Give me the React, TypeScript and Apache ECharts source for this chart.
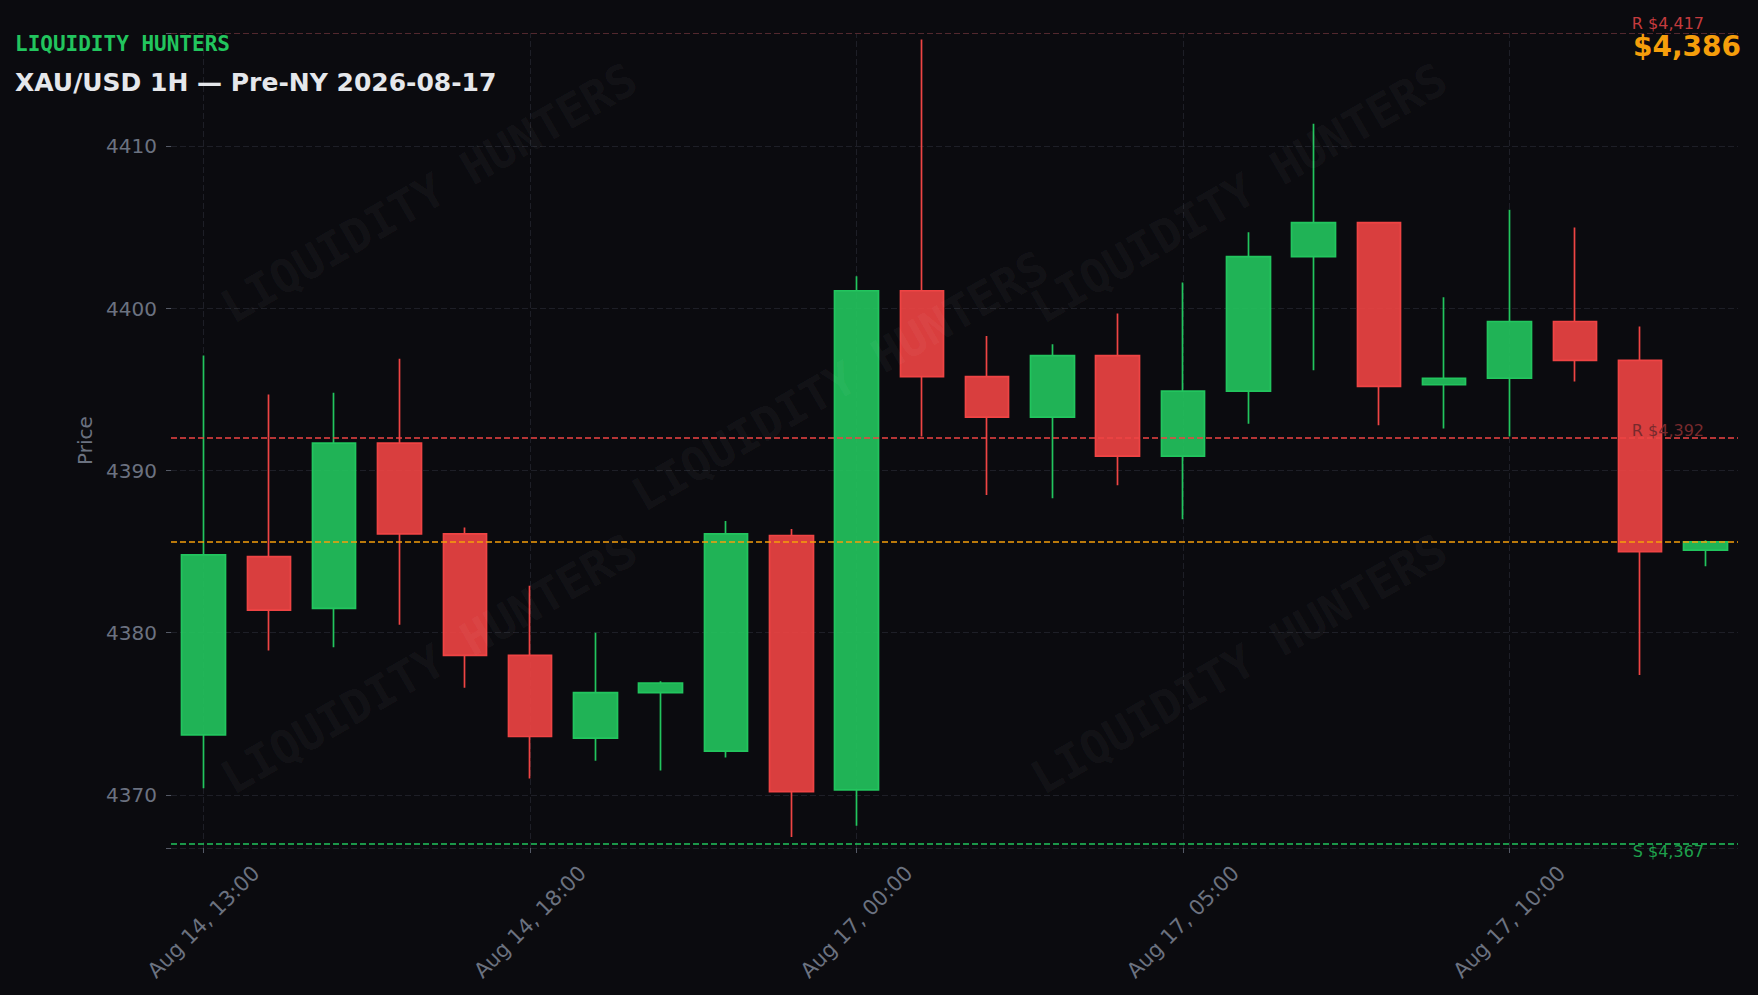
import React, { useEffect, useRef } from 'react';
import * as echarts from 'echarts';

// ---- Data ----
const categories = [
  'Aug 14, 13:00', 'Aug 14, 14:00', 'Aug 14, 15:00', 'Aug 14, 16:00', 'Aug 14, 17:00',
  'Aug 14, 18:00', 'Aug 14, 19:00', 'Aug 14, 20:00', 'Aug 14, 21:00', 'Aug 14, 22:00',
  'Aug 17, 00:00', 'Aug 17, 01:00', 'Aug 17, 02:00', 'Aug 17, 03:00', 'Aug 17, 04:00',
  'Aug 17, 05:00', 'Aug 17, 06:00', 'Aug 17, 07:00', 'Aug 17, 08:00', 'Aug 17, 09:00',
  'Aug 17, 10:00', 'Aug 17, 11:00', 'Aug 17, 12:00', 'Aug 17, 13:00',
];
const opens = [
  4373.7, 4384.7, 4381.5, 4391.7, 4386.1, 4378.6, 4373.5, 4376.3, 4372.7, 4386.0,
  4370.3, 4401.1, 4395.8, 4393.3, 4397.1, 4390.9, 4394.9, 4403.2, 4405.3, 4395.3,
  4395.7, 4399.2, 4396.8, 4385.1,
];
const closes = [
  4384.8, 4381.4, 4391.7, 4386.1, 4378.6, 4373.6, 4376.3, 4376.9, 4386.1, 4370.2,
  4401.1, 4395.8, 4393.3, 4397.1, 4390.9, 4394.9, 4403.2, 4405.3, 4395.2, 4395.7,
  4399.2, 4396.8, 4385.0, 4385.6,
];
const lows = [
  4370.4, 4378.9, 4379.1, 4380.5, 4376.6, 4371.0, 4372.1, 4371.5, 4372.3, 4367.4,
  4368.1, 4392.1, 4388.5, 4388.3, 4389.1, 4387.0, 4392.9, 4396.2, 4392.8, 4392.6,
  4392.1, 4395.5, 4377.4, 4384.1,
];
const highs = [
  4397.1, 4394.7, 4394.8, 4396.9, 4386.5, 4382.9, 4380.0, 4377.0, 4386.9, 4386.4,
  4402.0, 4416.6, 4398.3, 4397.8, 4399.7, 4401.6, 4404.7, 4411.4, 4405.3, 4400.7,
  4406.1, 4405.0, 4398.9, 4385.7,
];
const resistanceTop = 4417;
const resistance = 4392;
const support = 4367;
const currentPrice = 4385.6;
const gridLineCategories = [0, 5, 10, 15, 20];
const brand = 'LIQUIDITY HUNTERS';
const title = 'XAU/USD 1H — Pre-NY 2026-08-17';
const yMin = 4366.72;
const yMax = 4417.0;

const fmt = (v: number) => '$' + Math.round(v).toLocaleString('en-US');

export default function App() {
  const ref = useRef<HTMLDivElement>(null);
  useEffect(() => {
    document.body.style.margin = '0';
    const chart = echarts.init(ref.current!, null, { renderer: 'svg' });
    const candleData = opens.map((o, i) => [o, closes[i], lows[i], highs[i]]);
    const labelGray = '#6b7280';
    const watermarks = [
      [429, 193], [840, 381], [1239, 193], [429, 664], [1239, 664],
    ];
    chart.setOption({
      animation: false,
      backgroundColor: '#0b0b0f',
      textStyle: { fontFamily: '"DejaVu Sans", sans-serif' },
      grid: { left: 171, right: 20, top: 33, bottom: 147, containLabel: false },
      xAxis: {
        type: 'category',
        data: categories,
        boundaryGap: true,
        axisLine: { show: false },
        axisTick: { show: true, alignWithLabel: true, interval: 4, length: 5, lineStyle: { color: '#555a66', width: 1 } },
        axisLabel: {
          interval: 4,
          rotate: 45,
          align: 'center',
          verticalAlign: 'middle',
          margin: 74,
          color: labelGray,
          fontSize: 21,
        },
        splitLine: { show: false },
      },
      yAxis: {
        type: 'value',
        min: yMin,
        max: yMax,
        scale: true,
        name: 'Price',
        nameLocation: 'middle',
        nameGap: 70,
        nameTextStyle: { color: labelGray, fontSize: 20 },
        axisLine: { show: false },
        axisTick: { show: true, length: 5, lineStyle: { color: '#555a66' } },
        axisLabel: {
          color: labelGray,
          fontSize: 20,
          margin: 14,
          formatter: (v: number) => (Math.abs(v - Math.round(v / 10) * 10) < 1e-6 ? String(Math.round(v)) : ''),
        },
        splitLine: { show: true, lineStyle: { color: '#1e1f27', type: [6, 3], width: 1 } },
      },
      series: [
        {
          type: 'line',
          data: [],
          z: 1,
          markLine: {
            z: 1,
            silent: true,
            symbol: ['none', 'none'],
            label: { show: false },
            lineStyle: { color: '#1e1f27', type: [6, 3], width: 1 },
            data: gridLineCategories.map((i) => ({ xAxis: categories[i] })),
          },
        },
        {
          type: 'candlestick',
          z: 2,
          data: candleData,
          barWidth: 44,
          itemStyle: {
            color: 'rgba(34,197,94,0.9)',
            color0: 'rgba(239,68,68,0.9)',
            borderColor: '#22c55e',
            borderColor0: '#ef4444',
            borderWidth: 1.7,
          },
          markLine: {
            silent: true,
            symbol: ['none', 'none'],
            data: [
              {
                yAxis: resistanceTop,
                lineStyle: { color: 'rgba(239,68,68,0.25)', type: [6, 3], width: 1.2 },
                label: {
                  show: true, position: 'insideEndTop', distance: [34, 2],
                  formatter: 'R ' + fmt(resistanceTop), color: '#c53b3e', fontSize: 16,
                },
              },
              {
                yAxis: resistance,
                lineStyle: { color: '#ef4444', type: [6, 3], width: 1.5 },
                label: {
                  show: true, position: 'insideEndTop', distance: [34, 0],
                  formatter: 'R ' + fmt(resistance), color: '#772a2d', fontSize: 16,
                },
              },
              {
                yAxis: currentPrice,
                lineStyle: { color: '#f59e0b', type: [6, 3], width: 1.5 },
                label: { show: false },
              },
              {
                yAxis: support,
                lineStyle: { color: '#22c55e', type: [6, 3], width: 1.5 },
                label: {
                  show: true, position: 'insideEndBottom', distance: [34, 0],
                  formatter: 'S ' + fmt(support), color: '#1ea04c', fontSize: 16,
                },
              },
            ],
          },
        },
      ],
      graphic: [
        ...watermarks.map(([x, y]) => ({
          type: 'text',
          x,
          y,
          rotation: (30 * Math.PI) / 180,
          z: 100,
          silent: true,
          style: {
            text: brand,
            fill: 'rgba(255,255,255,0.05)',
            font: 'bold 46px "DejaVu Sans Mono", monospace',
            align: 'center',
            verticalAlign: 'middle',
            textAlign: 'center',
            textVerticalAlign: 'middle',
          },
        })),
        {
          type: 'text',
          left: 15,
          top: 33,
          z: 101,
          style: {
            text: brand,
            fill: '#22c55e',
            font: 'bold 21px "DejaVu Sans Mono", monospace',
          },
        },
        {
          type: 'text',
          left: 15,
          top: 70,
          z: 101,
          style: {
            text: title,
            fill: '#e5e7eb',
            font: 'bold 25px "DejaVu Sans", sans-serif',
          },
        },
        {
          type: 'text',
          right: 17,
          top: 32,
          z: 101,
          style: {
            text: fmt(currentPrice),
            fill: '#f59e0b',
            font: 'bold 28px "DejaVu Sans", sans-serif',
          },
        },
      ],
    });
    return () => chart.dispose();
  }, []);
  return <div ref={ref} style={{ position: 'absolute', left: 0, top: 0, width: 1758, height: 995 }} />;
}
